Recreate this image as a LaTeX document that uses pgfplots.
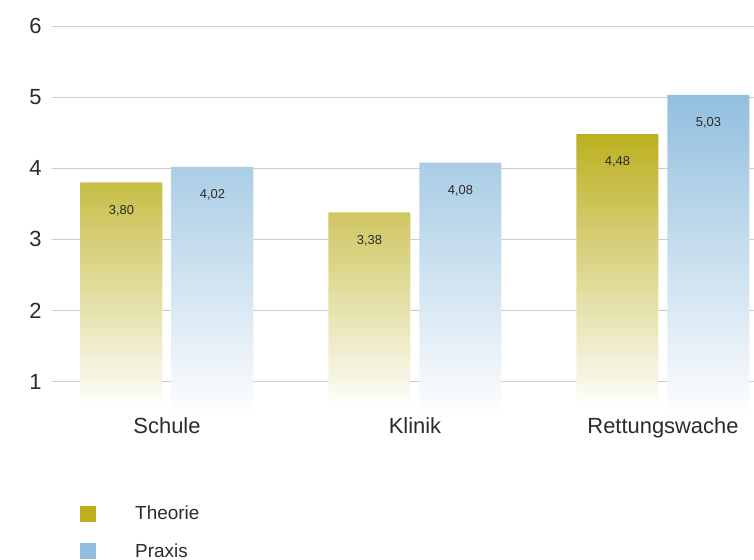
\documentclass[border=0pt]{standalone}
\usepackage{pgfplots}
\pgfplotsset{compat=1.18}
\usepackage{fontspec}
\setmainfont{Liberation Sans}
\definecolor{theorie}{HTML}{BCB020}
\definecolor{praxis}{HTML}{92BFDE}
\definecolor{txt}{HTML}{2B2B2B}
\definecolor{gridc}{HTML}{CCCCCC}
\begin{document}
\begin{tikzpicture}
\begin{axis}[
    name=ax,
    scale only axis,
    width=702bp, height=384bp,
    ybar=9bp, bar width=82bp,
    xmin=-0.4637, xmax=2.367,
    ymin=0.6, ymax=6,
    xtick=data,
    xticklabels={Schule, Klinik, Rettungswache},
    ytick={1,2,3,4,5,6},
    axis line style={draw=none},
    major tick length=0pt,
    ymajorgrids,
    grid style={gridc, line width=0.9bp},
    /pgf/number format/assume math mode=true,
    ticklabel style={font=\fontsize{22}{24}\selectfont, text=txt},
    yticklabel style={xshift=-7bp},
    xticklabel style={yshift=-4bp},
    nodes near coords={\pgfmathprintnumber[fixed,fixed zerofill,precision=2,use comma]{\pgfplotspointmeta}},
    every node near coord/.append style={anchor=center, yshift=-28bp, font=\fontsize{13}{15}\selectfont, text=txt},
    legend cell align=left,
    legend style={at={(rel axis cs:0,0)}, anchor=north west, xshift=28bp, yshift=-94bp,
      draw=none, fill=none, inner sep=0pt, row sep=18bp,
      font=\fontsize{19}{21}\selectfont, text=txt},
]
\addplot[draw=none, top color=theorie, middle color=theorie!40!white, bottom color=white,
  legend image code/.code={\pgfsetfillcolor{theorie}\pgfpathrectangle{\pgfpoint{0bp}{-8bp}}{\pgfpoint{16bp}{16bp}}\pgfusepath{fill}\path (0,0) -- (53bp,0);}]
  coordinates {(0,3.80) (1,3.38) (2,4.48)};
\addplot[draw=none, top color=praxis, middle color=praxis!35!white, bottom color=white!97!praxis,
  legend image code/.code={\pgfsetfillcolor{praxis}\pgfpathrectangle{\pgfpoint{0bp}{-8bp}}{\pgfpoint{16bp}{16bp}}\pgfusepath{fill}\path (0,0) -- (53bp,0);}]
  coordinates {(0,4.02) (1,4.08) (2,5.03)};
\legend{Theorie, Praxis}
\end{axis}
\pgfresetboundingbox
\path[use as bounding box] ([xshift=-52bp,yshift=-150bp]ax.south west) rectangle ([yshift=26bp]ax.north east);
\end{tikzpicture}
\end{document}
